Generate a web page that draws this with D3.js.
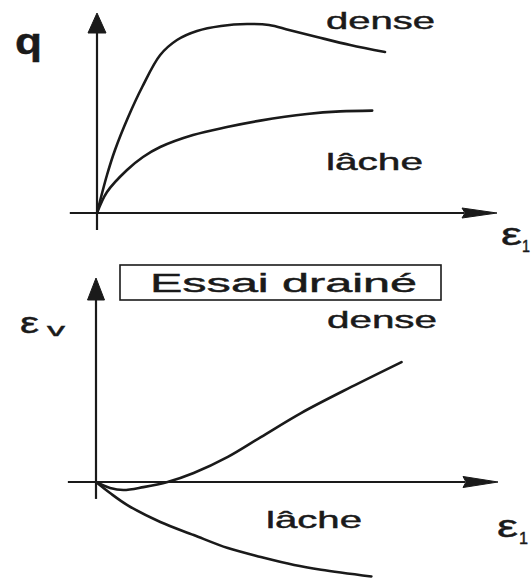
<!DOCTYPE html>
<html>
<head>
<meta charset="utf-8">
<script src="https://cdn.jsdelivr.net/npm/d3@7"></script>
<style>
  html, body { margin: 0; padding: 0; background: #fff; }
  svg { display: block; }
  text { font-family: "Liberation Sans", Arial, Helvetica, sans-serif; fill: #1a1a1a; stroke: #1a1a1a; stroke-width: 0.45; }
</style>
</head>
<body>
<svg id="chart" width="531" height="578"></svg>
<script>
// Drained triaxial test: deviator stress q and volumetric strain εv
// against axial strain ε1, for dense and loose sand (schematic units).

// Upper panel: q vs ε1
const qDenseEps = [0, 0.25, 0.45, 0.78, 1.13, 1.58, 2.0, 2.5, 3.1, 3.75, 4.3, 4.8, 5.5, 6.33, 7.2];
const qDense    = [0, 1.9, 3.15, 4.8, 6.3, 7.9, 8.65, 9.1, 9.35, 9.45, 9.4, 9.15, 8.8, 8.4, 8.05];
const qLooseEps = [0, 0.25, 0.75, 1.15, 1.58, 2.4, 3.25, 4.08, 5.25, 6.08, 6.88];
const qLoose    = [0, 1.05, 2.15, 2.8, 3.3, 3.9, 4.3, 4.62, 4.95, 5.08, 5.12];

// Lower panel: εv vs ε1 (positive = dilatancy)
const evDenseEps = [0, 0.35, 0.68, 1.18, 1.78, 2.43, 3.28, 4.1, 5.1, 6.35, 7.6];
const evDense    = [0, -0.29, -0.39, -0.25, 0, 0.44, 1.23, 2.2, 3.38, 4.66, 5.88];
const evLooseEps = [0, 0.35, 0.78, 1.6, 2.43, 3.28, 4.1, 4.93, 5.6, 6.85];
const evLoose    = [0, -0.54, -1.13, -1.96, -2.6, -3.24, -3.68, -4.07, -4.3, -4.63];

const seriesLabels = ["dense", "lâche"];
const panelTitle = "Essai drainé";

const svg = d3.select("#chart");
const ink = "#1a1a1a";

// Scales: each panel shares the ε1 axis extent (0..10)
const xTop = d3.scaleLinear().domain([0, 10]).range([97, 497]);
const yTop = d3.scaleLinear().domain([0, 10]).range([213, 13]);
const xBot = d3.scaleLinear().domain([0, 10]).range([96, 498]);
const yBot = d3.scaleLinear().domain([0, 10]).range([482, 278]);

const zip = (xs, ys) => xs.map((x, i) => [x, ys[i]]);

function curve(xs, ys, sx, sy) {
  const line = d3.line()
    .x(d => sx(d[0]))
    .y(d => sy(d[1]))
    .curve(d3.curveCatmullRom.alpha(0.5));
  svg.append("path")
    .attr("d", line(zip(xs, ys)))
    .attr("fill", "none")
    .attr("stroke", ink)
    .attr("stroke-width", 2.6)
    .attr("stroke-linecap", "round")
    .attr("stroke-linejoin", "round");
}

// Plain axes with arrowheads, positioned through the scales
function axes(sx, sy, xMin, yMin, yHeadLen, yHeadW, xHeadLen, xHeadH) {
  const x0 = sx(0), y0 = sy(0);
  const xTip = sx(10), yTip = sy(10);
  const g = svg.append("g").attr("stroke", ink).attr("fill", ink);
  // x axis
  g.append("line")
    .attr("x1", sx(xMin)).attr("y1", y0)
    .attr("x2", xTip - xHeadLen + 2).attr("y2", y0)
    .attr("stroke-width", 1.8);
  g.append("path")
    .attr("d", `M${xTip},${y0} L${xTip - xHeadLen},${y0 - xHeadH / 2} L${xTip - xHeadLen + 3},${y0} L${xTip - xHeadLen},${y0 + xHeadH / 2} Z`)
    .attr("stroke-width", 1)
    .attr("stroke-linejoin", "miter");
  // y axis
  g.append("line")
    .attr("x1", x0).attr("y1", sy(yMin))
    .attr("x2", x0).attr("y2", yTip + yHeadLen - 2)
    .attr("stroke-width", 2.2);
  g.append("path")
    .attr("d", `M${x0},${yTip} L${x0 + yHeadW / 2},${yTip + yHeadLen} L${x0 - yHeadW / 2},${yTip + yHeadLen} Z`)
    .attr("stroke-width", 1);
}

function label(str, x, y, size, len, weight) {
  svg.append("text")
    .attr("x", x).attr("y", y)
    .attr("font-size", size)
    .attr("font-weight", weight || "normal")
    .attr("textLength", len)
    .attr("lengthAdjust", "spacingAndGlyphs")
    .text(str);
}

// ---- Upper panel ----
axes(xTop, yTop, -0.68, -0.85, 20, 18, 35, 10);
curve(qDenseEps, qDense, xTop, yTop);
curve(qLooseEps, qLoose, xTop, yTop);

label("q", 15, 54, 37, 27, "bold");
label(seriesLabels[0], 326, 29, 24, 109);
label(seriesLabels[1], 326, 170, 24, 97);
label("ε", 501, 245, 32, 21);
label("1", 522, 252, 17, 8);

// ---- Lower panel ----
axes(xBot, yBot, -0.7, -0.83, 22, 17, 35, 11);
curve(evDenseEps, evDense, xBot, yBot);
curve(evLooseEps, evLoose, xBot, yBot);

// Title box
svg.append("rect")
  .attr("x", 120).attr("y", 265)
  .attr("width", 321).attr("height", 35)
  .attr("fill", "none")
  .attr("stroke", ink)
  .attr("stroke-width", 1.6);
label(panelTitle, 150, 292, 26, 267);

label("ε", 20, 333, 30, 19);
label("v", 47, 336, 19, 18);
label(seriesLabels[0], 327, 328, 24, 110);
label(seriesLabels[1], 266, 528, 24, 96);
label("ε", 497, 537, 32, 21);
label("1", 519, 544, 17, 9);
</script>
</body>
</html>
